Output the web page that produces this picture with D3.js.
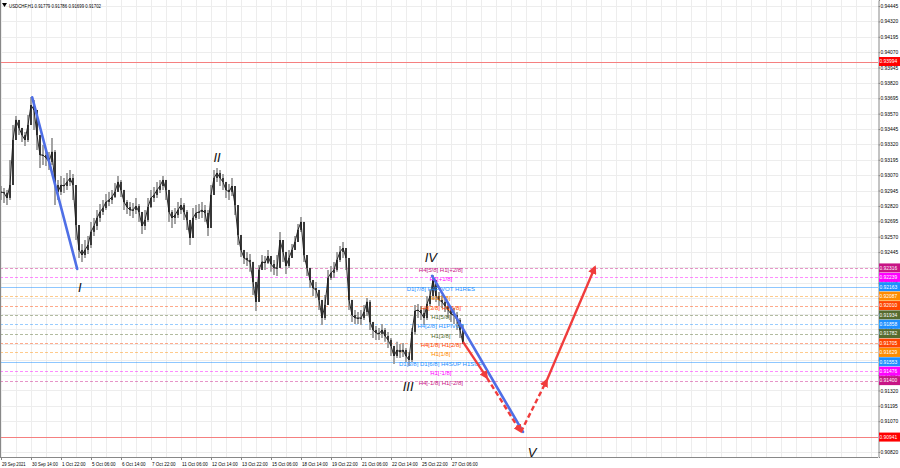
<!DOCTYPE html>
<html><head><meta charset="utf-8">
<script src="https://cdn.jsdelivr.net/npm/d3@7"></script>
<style>body{margin:0;background:#fff}svg{display:block;font-family:"Liberation Sans",Arial,sans-serif}</style>
</head><body><svg id="c" width="900" height="468"></svg>
<script>
const symbolTitle = "USDCHF,H1  0.91779 0.91786 0.91699 0.91702";
const highs = [0.92982,0.92966,0.92950,0.93194,0.93478,0.93551,0.93519,0.93454,0.93421,0.93559,
0.93705,0.93681,0.93519,0.93356,0.93315,0.93275,0.93259,0.93372,0.93275,0.93031,
0.93063,0.93047,0.93088,0.93112,0.93079,0.92909,0.92584,0.92510,0.92543,0.92576,
0.92690,0.92722,0.92787,0.92835,0.92868,0.92917,0.92934,0.92950,0.93007,0.93063,
0.93031,0.92926,0.92868,0.92852,0.92844,0.92885,0.92835,0.92746,0.92787,0.92885,
0.92950,0.92974,0.93015,0.93031,0.93063,0.93031,0.92868,0.92787,0.92803,0.92852,
0.92885,0.92844,0.92787,0.92690,0.92803,0.92827,0.92835,0.92852,0.92827,0.92787,
0.92990,0.93112,0.93129,0.93112,0.93079,0.93015,0.92998,0.93047,0.92950,0.92746,
0.92543,0.92462,0.92446,0.92429,0.92365,0.92177,0.92340,0.92421,0.92413,0.92462,
0.92413,0.92381,0.92421,0.92609,0.92510,0.92413,0.92462,0.92510,0.92576,0.92673,
0.92730,0.92665,0.92397,0.92300,0.92218,0.92202,0.92137,0.92015,0.92096,0.92300,
0.92332,0.92365,0.92446,0.92494,0.92527,0.92462,0.92381,0.92015,0.91974,0.91958,
0.91974,0.92015,0.92072,0.92056,0.91877,0.91844,0.91828,0.91860,0.91828,0.91796,
0.91747,0.91682,0.91715,0.91698,0.91706,0.91666,0.91633,0.91828,0.92015,0.92023,
0.92007,0.91991,0.92088,0.92137,0.92259,0.92177,0.92121,0.92096,0.92072,0.92040,
0.92007,0.91991,0.91958,0.91909,0.91852];
const closes = [0.92934,0.92926,0.92885,0.92990,0.93356,0.93519,0.93454,0.93396,0.93356,0.93478,
0.93640,0.93600,0.93396,0.93234,0.93234,0.93210,0.93178,0.93259,0.92990,0.92934,
0.92990,0.92982,0.93015,0.93047,0.92990,0.92665,0.92462,0.92421,0.92462,0.92502,
0.92609,0.92657,0.92722,0.92771,0.92803,0.92852,0.92868,0.92893,0.92934,0.93015,
0.92950,0.92852,0.92811,0.92787,0.92787,0.92819,0.92771,0.92657,0.92706,0.92811,
0.92885,0.92909,0.92950,0.92982,0.93031,0.92950,0.92771,0.92722,0.92746,0.92787,
0.92827,0.92771,0.92706,0.92560,0.92722,0.92763,0.92771,0.92787,0.92763,0.92641,
0.92909,0.93047,0.93088,0.93047,0.93015,0.92950,0.92934,0.92982,0.92827,0.92584,
0.92462,0.92397,0.92381,0.92365,0.92202,0.92040,0.92300,0.92365,0.92357,0.92413,
0.92348,0.92316,0.92316,0.92543,0.92446,0.92332,0.92397,0.92462,0.92527,0.92625,
0.92690,0.92421,0.92316,0.92218,0.92153,0.92137,0.92056,0.91909,0.92015,0.92235,
0.92276,0.92300,0.92381,0.92446,0.92478,0.92397,0.92056,0.91933,0.91909,0.91909,
0.91909,0.91958,0.92040,0.91877,0.91812,0.91788,0.91780,0.91812,0.91763,0.91731,
0.91682,0.91600,0.91649,0.91633,0.91649,0.91600,0.91568,0.91796,0.91966,0.91974,
0.91950,0.91909,0.92023,0.92088,0.92218,0.92088,0.92056,0.92040,0.92007,0.91974,
0.91941,0.91933,0.91893,0.91812,0.91702];
const lows = [0.92868,0.92844,0.92827,0.92868,0.93153,0.93396,0.93396,0.93340,0.93307,0.93340,
0.93478,0.93437,0.93275,0.93129,0.93153,0.93145,0.93112,0.93153,0.92827,0.92868,
0.92909,0.92926,0.92950,0.92982,0.92868,0.92543,0.92397,0.92365,0.92397,0.92429,
0.92478,0.92576,0.92625,0.92690,0.92746,0.92787,0.92819,0.92835,0.92885,0.92934,
0.92893,0.92787,0.92754,0.92738,0.92722,0.92754,0.92690,0.92592,0.92625,0.92690,
0.92803,0.92852,0.92885,0.92926,0.92950,0.92868,0.92690,0.92641,0.92673,0.92722,
0.92754,0.92706,0.92625,0.92502,0.92609,0.92706,0.92714,0.92722,0.92690,0.92576,
0.92665,0.92934,0.93015,0.92982,0.92950,0.92885,0.92868,0.92901,0.92746,0.92502,
0.92405,0.92348,0.92332,0.92284,0.92096,0.91966,0.92056,0.92300,0.92300,0.92348,
0.92284,0.92259,0.92251,0.92365,0.92365,0.92267,0.92316,0.92397,0.92462,0.92543,
0.92609,0.92365,0.92251,0.92153,0.92088,0.92072,0.91974,0.91852,0.91893,0.92056,
0.92218,0.92235,0.92284,0.92365,0.92397,0.92300,0.91974,0.91877,0.91860,0.91860,
0.91852,0.91893,0.91925,0.91812,0.91747,0.91731,0.91731,0.91747,0.91715,0.91666,
0.91600,0.91535,0.91584,0.91584,0.91592,0.91552,0.91519,0.91552,0.91772,0.91909,
0.91893,0.91852,0.91893,0.92007,0.92056,0.92040,0.92007,0.91991,0.91958,0.91909,
0.91877,0.91860,0.91812,0.91747,0.91698];
const timeLabels = ["29 Sep 2021","30 Sep 14:00","1 Oct 22:00","5 Oct 06:00","6 Oct 14:00","7 Oct 22:00","11 Oct 06:00","12 Oct 14:00","13 Oct 22:00","15 Oct 06:00","18 Oct 14:00","19 Oct 22:00","21 Oct 06:00","22 Oct 14:00","25 Oct 22:00","27 Oct 06:00"];
const priceTicks = [0.90820,0.90945,0.91070,0.91195,0.91320,0.91445,0.91570,0.91695,0.91820,0.91945,0.92070,0.92195,0.92320,0.92445,0.92570,0.92695,0.92820,0.92945,0.93070,0.93195,0.93320,0.93445,0.93570,0.93695,0.93820,0.93945,0.94070,0.94195,0.94320,0.94445];
const levelPrices = [0.92316,0.92239,0.92163,0.92087,0.92010,0.91934,0.91858,0.91782,0.91705,0.91629,0.91553,0.91476,0.91400];
const levelNames = ["H4[5/8] H1[+2/8]","H1[+1/8]","D1[7/8] H4PIVOT H1RES","H1[7/8]","H4[3/8] H1[6/8]","H1[5/8]","H4[2/8] H1PIVOT","H1[3/8]","H4[1/8] H1[2/8]","H1[1/8]","D1[3/8] D1[6/8] H4SUP H1SUP","H1[-1/8]","H4[-1/8] H1[-2/8]"];
const levelColors = ["#c71585","#ff00ff","#1e90ff","#ff8c00","#ff4500","#556b2f","#1e90ff","#556b2f","#ff4500","#ff8c00","#1e90ff","#ff00ff","#c71585"];
const levelSolid = [false,false,true,false,false,false,false,false,false,false,true,false,false];
const redLevels = [0.93994, 0.90941];
const waveOne = [[10.4,0.93703],[25.4,0.92308]];
const waveFive = [[143.7,0.92251],[174.0,0.90983]];
const projection = [[154,0.91715],[162,0.91422],[173.3,0.90983],[182,0.91406],[198,0.92324]];
const projectionDashed = [false,true,true,false];
const waveLabels = ["I","II","III","IV","V"];
const waveLabelAt = [[26.3,0.92161],[72,0.93218],[135.7,0.91357],[143.3,0.92405],[177,0.90820]];

const plotR = 878, plotB = 457;
const svg = d3.select("#c");
const x = d3.scaleLinear().domain([0, 292.33]).range([1, plotR]);
const y = d3.scaleLinear().domain([0.90779, 0.94494]).range([plotB, 0]);
const fmt = d3.format(".5f");

// grid
const g = svg.append("g");
g.selectAll(".hg").data(priceTicks).join("line")
  .attr("x1",0).attr("x2",plotR).attr("y1",d=>Math.round(y(d))+0.5).attr("y2",d=>Math.round(y(d))+0.5)
  .attr("stroke","#ededed").attr("stroke-width",1);
g.selectAll(".vg").data(d3.range(0, 292, 5)).join("line")
  .attr("x1",d=>Math.round(x(d))+0.5).attr("x2",d=>Math.round(x(d))+0.5).attr("y1",0).attr("y2",plotB)
  .attr("stroke","#ededed").attr("stroke-width",1);

// level lines
svg.append("g").selectAll("line").data(levelPrices).join("line")
  .attr("x1",0).attr("x2",plotR).attr("y1",d=>Math.round(y(d))+0.5).attr("y2",d=>Math.round(y(d))+0.5)
  .attr("stroke",(d,i)=>levelColors[i]).attr("stroke-opacity",(d,i)=>levelSolid[i]?0.5:0.45)
  .attr("stroke-dasharray",(d,i)=>levelSolid[i]?null:"3,2").attr("stroke-width",1);
svg.append("g").selectAll("line").data(redLevels).join("line")
  .attr("x1",0).attr("x2",plotR).attr("y1",d=>Math.round(y(d))+0.5).attr("y2",d=>Math.round(y(d))+0.5)
  .attr("stroke","#f58080").attr("stroke-width",1);

// candles
const cg = svg.append("g");
closes.forEach((c,i)=>{
  const o = i>0 ? closes[i-1] : c;
  const cx = x(i);
  cg.append("line").attr("x1",cx).attr("x2",cx)
    .attr("y1",y(Math.max(highs[i],o,c))).attr("y2",y(Math.min(lows[i],o,c)))
    .attr("stroke","#9a9a9a").attr("stroke-width",1.8);
});
cg.append("path").attr("d",d3.line().x((d,i)=>x(i)).y(d=>y(d))(closes))
  .attr("fill","none").attr("stroke","#2a2a2a").attr("stroke-width",1);
closes.forEach((c,i)=>{
  const o = i>0 ? closes[i-1] : c;
  const cx = x(i);
  const y0 = y(Math.max(o,c)), y1 = y(Math.min(o,c));
  cg.append("rect").attr("x",cx-0.8).attr("width",1.6)
    .attr("y",y0).attr("height",Math.max(1,y1-y0)).attr("fill","#1e1e1e");
});

// level text labels on chart
svg.append("g").selectAll("text").data(levelPrices).join("text")
  .attr("x",x(146.6)).attr("y",d=>y(d)+4).attr("text-anchor","middle")
  .attr("font-size",6).attr("fill",(d,i)=>levelColors[i]).text((d,i)=>levelNames[i]);

// markers
const defs = svg.append("defs");
defs.append("marker").attr("id","arr").attr("viewBox","0 0 10 10").attr("refX",8).attr("refY",5)
  .attr("markerWidth",3.6).attr("markerHeight",3.6).attr("orient","auto")
  .append("path").attr("d","M0,0L10,5L0,10z").attr("fill","#f03c3c");

// wave lines
const line = d3.line().x(d=>x(d[0])).y(d=>y(d[1]));
[waveOne, waveFive].forEach(w=>{
  svg.append("path").attr("d",line(w)).attr("stroke","#4f6fe6").attr("stroke-width",2.6)
    .attr("fill","none").attr("stroke-linecap","round");
});
d3.range(projection.length-1).forEach(k=>{
  svg.append("path").attr("d",line([projection[k],projection[k+1]]))
    .attr("stroke","#f03c3c").attr("stroke-width",2.4).attr("fill","none")
    .attr("stroke-dasharray",projectionDashed[k]?"5,3":null)
    .attr("marker-end","url(#arr)");
});

// wave labels
svg.append("g").selectAll("text").data(waveLabels).join("text")
  .attr("x",(d,i)=>x(waveLabelAt[i][0])).attr("y",(d,i)=>y(waveLabelAt[i][1])+5)
  .attr("text-anchor","middle").attr("font-size",13).attr("font-style","italic")
  .attr("fill","#111").text(d=>d);

// frame
svg.append("line").attr("x1",0.5).attr("x2",0.5).attr("y1",0).attr("y2",plotB).attr("stroke","#888");
svg.append("line").attr("x1",0).attr("x2",plotR).attr("y1",plotB+0.5).attr("y2",plotB+0.5).attr("stroke","#888");

// right axis
const ax = svg.append("g").attr("transform",`translate(${plotR+0.5},0)`)
  .call(d3.axisRight(y).tickValues(priceTicks).tickFormat(fmt).tickSize(1.5).tickPadding(0.5));
ax.select(".domain").attr("stroke","#888");
ax.selectAll("text").attr("font-size",4.9).attr("fill","#000");
ax.selectAll(".tick line").attr("stroke","#888");

// price boxes
function box(p, col){
  const yy = y(p);
  svg.append("rect").attr("x",plotR+1).attr("y",yy-4.5).attr("width",21).attr("height",9).attr("fill",col);
  svg.append("text").attr("x",plotR+1.5).attr("y",yy+1.8).attr("font-size",4.9).attr("fill","#fff").text(fmt(p));
}
levelPrices.forEach((p,i)=>box(p, levelColors[i]));
redLevels.forEach(p=>box(p,"#ff0000"));

// bottom time axis
const tg = svg.append("g");
timeLabels.forEach((t,k)=>{
  const xx = Math.round(x(k*10))+0.5;
  tg.append("line").attr("x1",xx).attr("x2",xx).attr("y1",plotB).attr("y2",plotB+3).attr("stroke","#888");
  tg.append("text").attr("x",xx+0.5).attr("y",465.5).attr("font-size",5.5).attr("fill","#000")
    .attr("textLength",t.length*2.15).attr("lengthAdjust","spacingAndGlyphs").text(t);
});

// title
svg.append("path").attr("d","M2,3L7,3L4.5,7z").attr("fill","#000");
svg.append("text").attr("x",9).attr("y",7.5).attr("font-size",5.5).attr("fill","#000")
  .attr("textLength",92).attr("lengthAdjust","spacingAndGlyphs").text(symbolTitle);
</script></body></html>
